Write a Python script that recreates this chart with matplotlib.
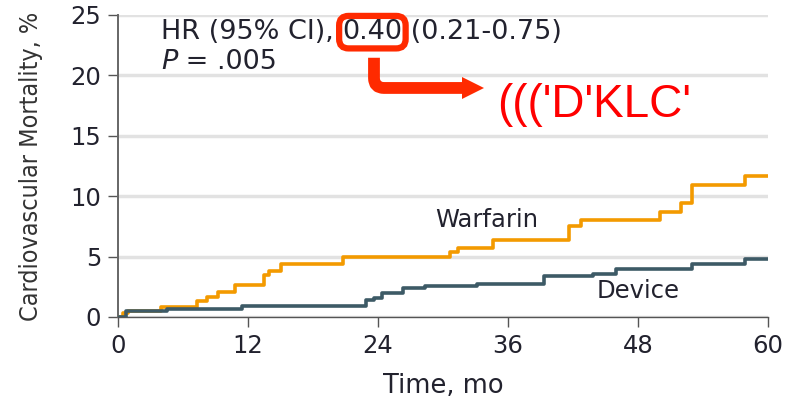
import matplotlib
matplotlib.use("Agg")
import matplotlib.pyplot as plt
from matplotlib.patches import FancyArrowPatch

# cumulative cardiovascular mortality (%) by month, Kaplan-Meier steps
warfarin_t = [0, 0.5, 0.9, 4.0, 7.3, 8.2, 9.2, 10.8, 13.5, 13.9, 15.0, 20.8,
              30.6, 31.4, 34.6, 41.6, 42.7, 50.0, 52.0, 53.0, 57.9, 60]
warfarin_v = [0, 0.3, 0.5, 0.85, 1.3, 1.65, 2.1, 2.65, 3.45, 3.8, 4.4, 4.95,
              5.4, 5.75, 6.4, 7.5, 8.0, 8.7, 9.4, 10.9, 11.7, 11.7]
device_t = [0, 0.7, 4.5, 11.4, 22.9, 23.6, 24.4, 26.3, 28.3, 33.1, 39.3,
            43.8, 46.0, 53.0, 57.9, 60]
device_v = [0, 0.5, 0.65, 0.95, 1.4, 1.6, 1.95, 2.4, 2.55, 2.75, 3.4,
            3.6, 3.95, 4.35, 4.8, 4.8]

x_ticks = [0, 12, 24, 36, 48, 60]
y_ticks = [0, 5, 10, 15, 20, 25]

hr_label = "HR (95% CI), "
hr_value = "0.40"
hr_ci = " (0.21-0.75)"
p_value = " = .005"
note_text = "((('D'KLC'"

WARF = "#f39a00"
DEV = "#3d5a66"
RED = "#ff2a00"
INK = "#22222e"

plt.rcParams["font.family"] = ["DejaVu Sans"]

fig = plt.figure(figsize=(7.92, 3.99), dpi=100)
ax = fig.add_axes([118 / 792, 82 / 399, 650 / 792, 302 / 399])

ax.step(warfarin_t, warfarin_v, where="post", color=WARF, lw=2.6, zorder=3)
ax.step(device_t, device_v, where="post", color=DEV, lw=2.6, zorder=4)

ax.set_xlim(0, 60)
ax.set_ylim(0, 25)
ax.set_xticks(x_ticks)
ax.set_yticks(y_ticks)
ax.yaxis.grid(True, color="#e2e2e2", lw=2.5, zorder=0)
ax.set_axisbelow(True)

for s in ("top", "right"):
    ax.spines[s].set_visible(False)
ax.spines["left"].set_color("#666666")
ax.spines["left"].set_linewidth(1.4)
ax.spines["bottom"].set_color("#555555")
ax.spines["bottom"].set_linewidth(1.0)

ax.tick_params(axis="both", labelsize=17.5, labelcolor=INK, color="#555555",
               length=7, width=1.0, pad=5)

ax.set_xlabel("Time, mo", fontsize=18.5, color=INK)
ax.xaxis.set_label_coords(0.5, -0.185)
ax.set_ylabel("Cardiovascular Mortality, %", fontsize=18, color="#333333",
              fontstretch="condensed")
ax.yaxis.set_label_coords(-0.116, 0.498)

# curve labels
ax.text(29.26, 7.42, "Warfarin", fontsize=17.5, color=INK)
ax.text(44.2, 1.55, "Device", fontsize=17.5, color=INK)

# hazard ratio line, value boxed in red
t1 = ax.text(3.97, 23.0, hr_label, fontsize=19.5, color=INK, clip_on=False)
t2 = ax.annotate(hr_value, xy=(1, 0), xycoords=t1, va="bottom", fontsize=19.5,
                 color=INK, annotation_clip=False,
                 bbox=dict(boxstyle="round,pad=0.12,rounding_size=0.35",
                           fc="white", ec=RED, lw=4.5))
ax.annotate(hr_ci, xy=(1, 0), xycoords=t2, va="bottom", fontsize=19.5,
            color=INK, annotation_clip=False)

p1 = ax.text(3.97, 20.53, "P", fontsize=19.5, color=INK, style="italic")
ax.annotate(p_value, xy=(1, 0), xycoords=p1, va="bottom", fontsize=19.5,
            color=INK)

# elbow arrow from the boxed value to the note
shaft = FancyArrowPatch((23.63, 21.69), (32.2, 18.96), arrowstyle="-",
                        connectionstyle="angle,angleA=-90,angleB=180,rad=10",
                        color=RED, lw=8.5, capstyle="butt", clip_on=False,
                        zorder=5)
ax.add_patch(shaft)
ax.plot([32.75], [18.96], marker=">", markersize=16, color=RED,
        markeredgewidth=0, clip_on=False, zorder=5)

ax.text(34.99, 16.56, note_text, fontsize=33, color="#ff0000",
        family=["Liberation Sans", "DejaVu Sans"], clip_on=False)

fig.savefig("out.png", dpi=100)
